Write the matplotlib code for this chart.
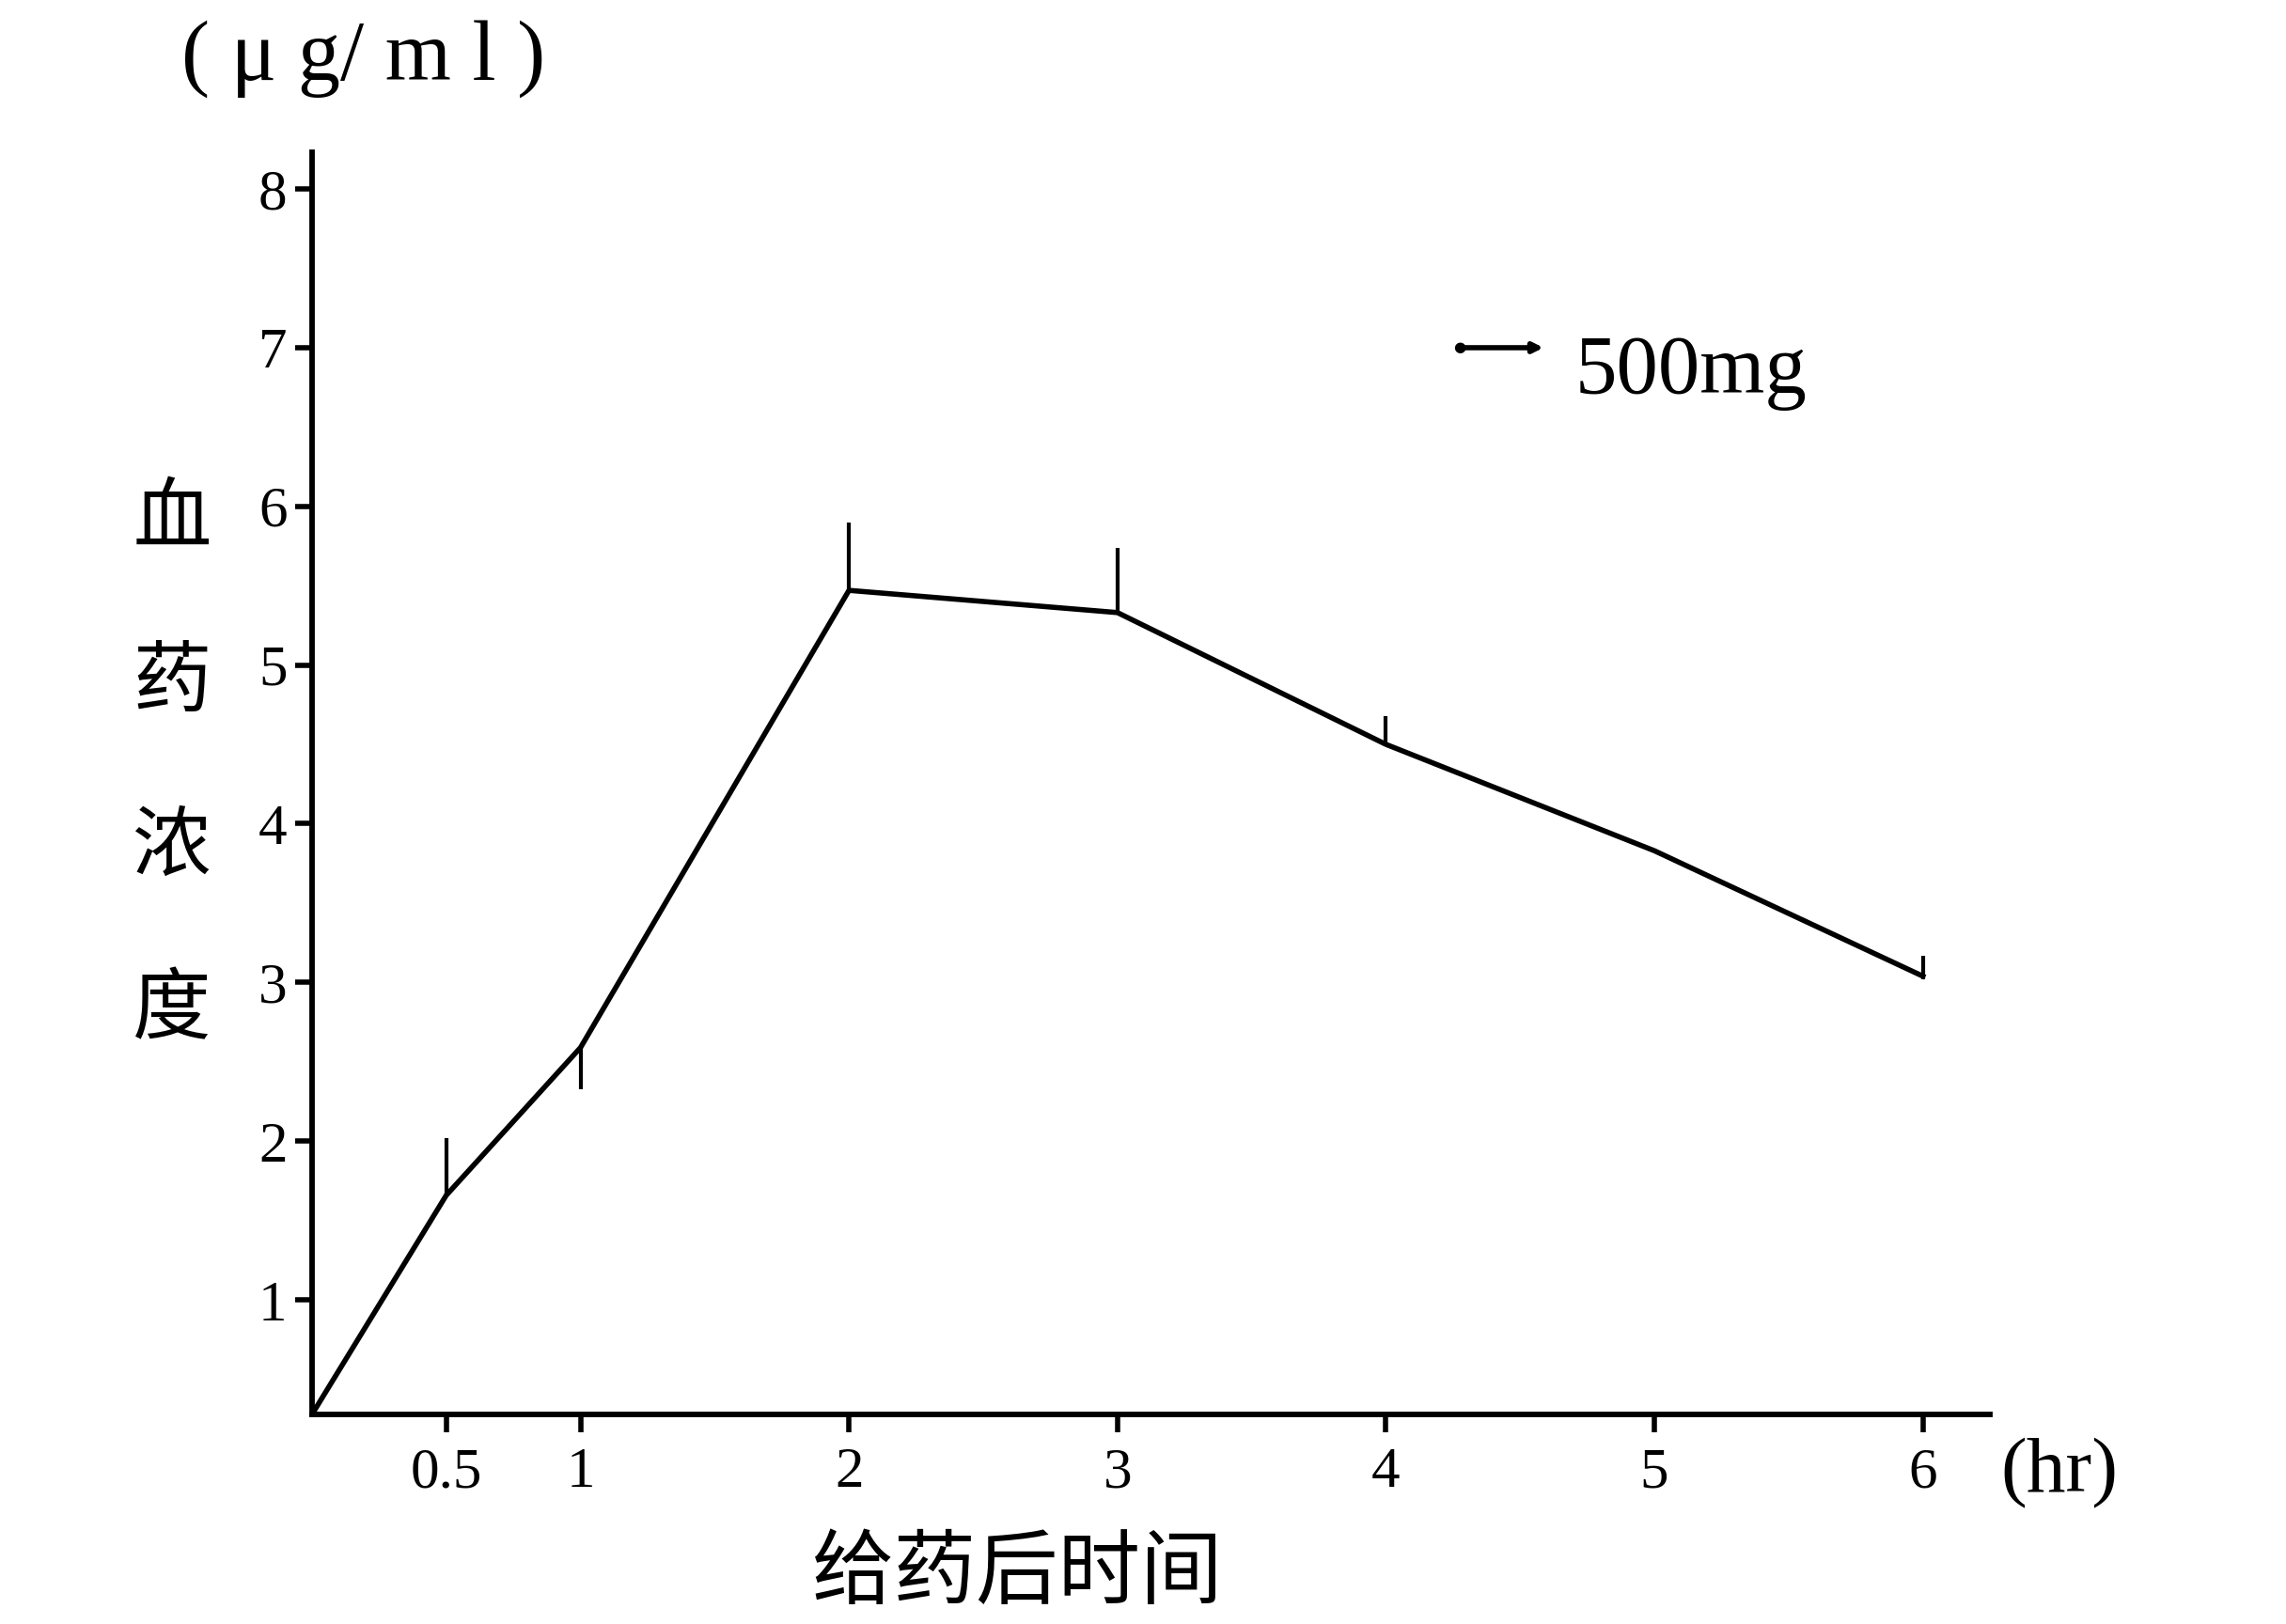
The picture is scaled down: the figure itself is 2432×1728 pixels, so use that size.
import matplotlib
matplotlib.use("Agg")
import matplotlib.pyplot as plt

# ---- data ----
times = [0, 0.5, 1, 2, 3, 4, 5, 6]
conc = [0.28, 1.66, 2.59, 5.47, 5.33, 4.50, 3.83, 3.04]

err_times = [0.5, 1, 2, 3, 4, 6]
err_vals = [1.66, 2.59, 5.47, 5.33, 4.50, 3.04]
err_lower = [0.0, 0.26, 0.0, 0.0, 0.0, 0.02]
err_upper = [0.36, 0.0, 0.43, 0.41, 0.18, 0.13]

x_ticks = [0.5, 1, 2, 3, 4, 5, 6]
x_ticklabels = ["0.5", "1", "2", "3", "4", "5", "6"]
y_ticks = [1, 2, 3, 4, 5, 6, 7, 8]
y_ticklabels = ["1", "2", "3", "4", "5", "6", "7", "8"]

series_label = "500mg"
x_title = "给药后时间"
y_title_chars = ["血", "药", "浓", "度"]
y_unit = "( μ g/ m l )"
x_unit = "(hr)"

SERIF = ["Liberation Serif", "DejaVu Serif"]
CJK = ["Noto Sans CJK SC", "DejaVu Sans"]

fig = plt.figure(figsize=(24.32, 17.28), dpi=100)
fig.patch.set_facecolor("white")
ax = fig.add_axes([0.1365, 0.1291, 0.734, 0.7772])

ax.plot(times, conc, color="black", lw=4.0, solid_joinstyle="miter")
ax.errorbar(err_times, err_vals, yerr=[err_lower, err_upper], fmt="none",
            ecolor="black", elinewidth=3.0, capsize=0)

ax.set_xlim(0, 6.25)
ax.set_ylim(0.28, 8.23)

for s in ["top", "right"]:
    ax.spines[s].set_visible(False)
for s in ["left", "bottom"]:
    ax.spines[s].set_linewidth(4.2)
    ax.spines[s].set_color("black")

ax.set_xticks(x_ticks)
ax.set_xticklabels(x_ticklabels, fontfamily=SERIF, fontsize=44)
ax.set_yticks(y_ticks)
ax.set_yticklabels(y_ticklabels, fontfamily=SERIF, fontsize=44)
ax.tick_params(axis="x", direction="out", length=14, width=4.0, pad=11)
ax.tick_params(axis="y", direction="out", length=13, width=4.0, pad=6)

# legend-like arrow sample
ax.annotate("", xy=(0.6752, 0.7859), xycoords="figure fraction",
            xytext=(0.6386, 0.7859), textcoords="figure fraction",
            arrowprops=dict(arrowstyle="-|>,head_length=0.6,head_width=0.3",
                            color="black", lw=4.0, shrinkA=0, shrinkB=0))
fig.text(0.6386, 0.7859, "●", fontsize=11, ha="center", va="center",
         color="black", family=["DejaVu Sans"])
fig.text(0.689, 0.758, series_label, fontsize=64, family=SERIF,
         ha="left", va="baseline")

# axis titles
fig.text(0.159, 0.964, y_unit, fontsize=65, family=SERIF,
         ha="center", va="center")
fig.text(0.875, 0.0926, x_unit, fontsize=60, family=SERIF,
         ha="left", va="center")
fig.text(0.445, 0.031, x_title, fontsize=63, family=CJK,
         ha="center", va="center")

y0 = 1 - 553 / 1728
dy = 174 / 1728
for i, ch in enumerate(y_title_chars):
    fig.text(0.0752, y0 - i * dy, ch, fontsize=60, family=CJK,
             ha="center", va="center")

fig.savefig("out.png", dpi=100, facecolor="white")
